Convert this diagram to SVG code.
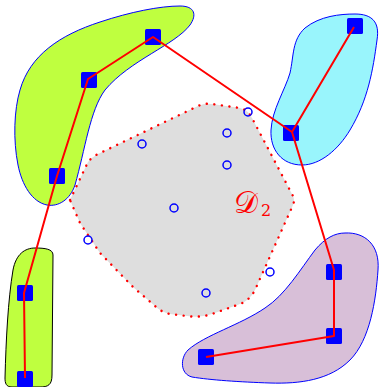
<svg xmlns="http://www.w3.org/2000/svg" width="379" height="387" viewBox="0 0 379 387">
<style>
.blob{stroke:#0000ff;stroke-width:1}
.pt{fill:#0000ff}
.obs{fill:none;stroke:#0000ff;stroke-width:1.5}
.edge{fill:none;stroke:#ff0000;stroke-width:2;stroke-linejoin:round}
.lbl{fill:#ff0000;font-family:"DejaVu Serif","Liberation Serif",serif}
</style>
<rect width="379" height="387" fill="#ffffff"/>
<g id="region-d2">
<path d="M 70,200 L 88,162 Q 92,157 98,154 L 198,106 Q 205,103 212,104 L 240,108 Q 248,110 252,118 L 293,196 Q 295,200 293,205 L 255,290 Q 250,300 240,304 L 212,314 Q 200,318 187,316 L 170,314 Q 161,312 155,306 L 133,287 L 100,253 L 80,223 Z" fill="#dedede" stroke="#ff0000" stroke-width="2.4" stroke-linecap="round" stroke-dasharray="0.1 7.5"/>
<text class="lbl" x="234" y="213" font-size="30">𝒟</text>
<text class="lbl" x="261" y="216" font-size="16">2</text>
</g>
<g id="cluster-green-top">
<path class="blob" d="M 180,6 C 195,6 197,15 190,25 C 175,45 130,60 105,90 C 90,110 85,150 75,185 C 70,200 58,207 47,205 C 32,202 22,185 18,165 C 13,140 14,110 20,90 C 30,55 60,35 100,22 C 130,12 160,6 180,6 Z" fill="#bfff3f"/>
</g>
<g id="cluster-green-bottom">
<path d="M 35,248 C 45,248 53,249 53,255 L 52,375 C 52,385 48,387 40,387 L 12,387 C 6,387 5,383 5,378 C 6,340 8,300 13,270 C 16,254 25,248 35,248 Z" fill="#bfff3f" stroke="#000000" stroke-width="1"/>
</g>
<g id="cluster-cyan">
<path class="blob" d="M 355,14 C 372,14 380,22 377,40 C 373,70 368,100 350,130 C 338,150 320,165 302,165 C 282,165 270,150 271,130 C 272,110 285,90 290,73 C 294,55 292,40 305,28 C 320,16 340,14 355,14 Z" fill="#99f5fc"/>
</g>
<g id="cluster-purple">
<path class="blob" d="M 345,233 C 365,232 380,245 378,270 C 376,300 370,340 350,360 C 330,380 300,384 270,383 C 240,382 210,380 192,377 C 180,374 180,358 188,350 C 205,335 240,325 265,308 C 285,295 300,270 315,250 C 325,238 335,233 345,233 Z" fill="#d8bfd8"/>
</g>
<g id="obstacles">
<circle class="obs" cx="142" cy="144" r="4"/>
<circle class="obs" cx="248" cy="112" r="4"/>
<circle class="obs" cx="227" cy="133" r="4"/>
<circle class="obs" cx="227" cy="165" r="4"/>
<circle class="obs" cx="174" cy="208" r="4"/>
<circle class="obs" cx="88" cy="240" r="4"/>
<circle class="obs" cx="270" cy="272" r="4"/>
<circle class="obs" cx="206" cy="293" r="4"/>
</g>
<g id="nodes">
<rect id="n-a" class="pt" x="145" y="29" width="16" height="16" rx="1.5"/>
<rect id="n-b" class="pt" x="81" y="72" width="16" height="16" rx="1.5"/>
<rect id="n-c" class="pt" x="49" y="168" width="16" height="16" rx="1.5"/>
<rect id="n-d" class="pt" x="17" y="285" width="16" height="16" rx="1.5"/>
<rect id="n-e" class="pt" x="17" y="371" width="16" height="16" rx="1.5"/>
<rect id="n-f" class="pt" x="347" y="18" width="16" height="16" rx="1.5"/>
<rect id="n-g" class="pt" x="283" y="125" width="16" height="16" rx="1.5"/>
<rect id="n-h" class="pt" x="326" y="264" width="16" height="16" rx="1.5"/>
<rect id="n-i" class="pt" x="326" y="328" width="16" height="16" rx="1.5"/>
<rect id="n-j" class="pt" x="198" y="349" width="16" height="16" rx="1.5"/>
</g>
<g id="connectors">
<polyline class="edge" points="25,378 24,293 57,176 88,79 153,37 292,132 354,27"/>
<polyline class="edge" points="292,132 334,270 334,336 206,357"/>
</g>
</svg>
